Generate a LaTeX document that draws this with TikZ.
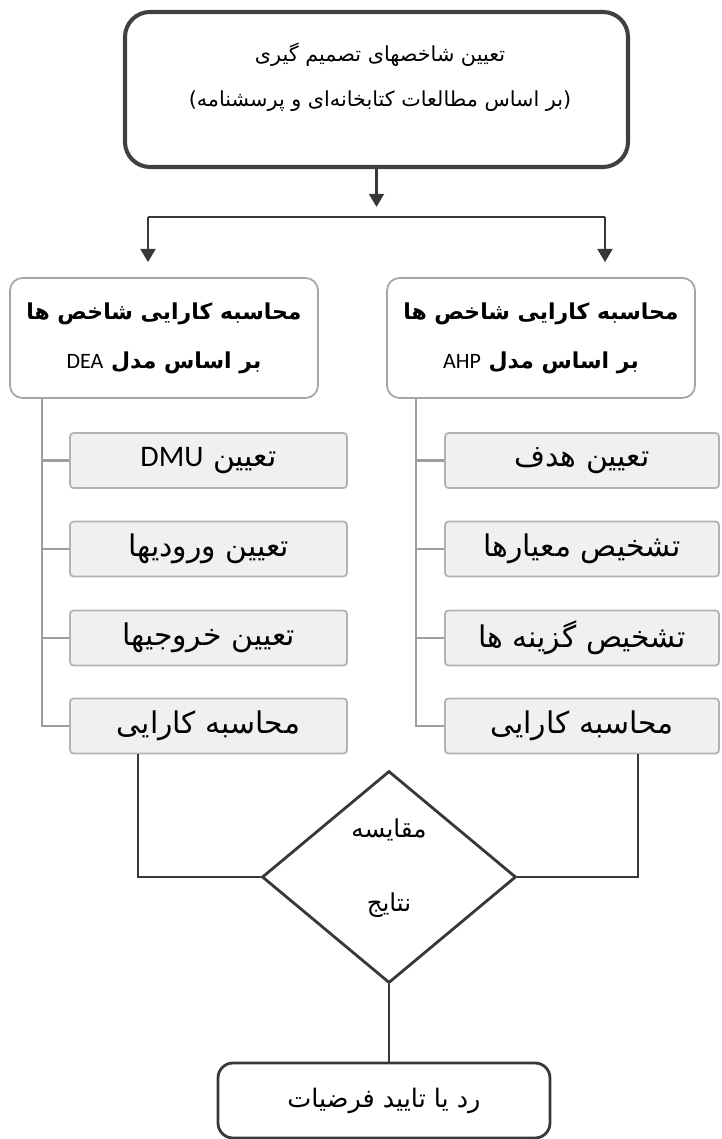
\documentclass[tikz,border=0pt]{standalone}
\usepackage{fontspec}
\newfontfamily\farsi[Script=Arabic]{DejaVu Sans}
\newfontfamily\latin{Carlito}
\TeXXeTstate=1
\usetikzlibrary{shapes.geometric, arrows.meta, calc}

\begin{document}
\begin{tikzpicture}[>={Triangle[length=7.5pt, width=8.5pt]},
    wire/.style={draw=black!78, line width=1.3pt},
    tree/.style={draw=black!38, line width=1.5pt},
    mainbox/.style={draw=black!75, line width=2.3pt, rounded corners=0.5cm, minimum width=10.06cm, minimum height=3.1cm},
    maintext/.style={align=center, font=\farsi\fontsize{11.8}{25.6}\selectfont},
    headbox/.style={draw=black!35, line width=1pt, rounded corners=0.25cm, fill=white, minimum width=6.16cm, minimum height=2.4cm, align=center, font=\farsi\bfseries\fontsize{12.5}{28}\selectfont},
    stepbox/.style={draw=black!30, line width=1pt, fill=black!6, rounded corners=2pt, minimum height=1.1cm, font=\farsi\fontsize{17}{20}\selectfont},
    cmpbox/.style={diamond, draw=black!78, line width=1.6pt, inner sep=0pt, minimum width=5.08cm, minimum height=4.24cm},
    cmptext/.style={align=center, font=\farsi\fontsize{14}{42}\selectfont},
    endbox/.style={draw=black!78, line width=1.6pt, rounded corners=0.3cm, minimum width=6.64cm, minimum height=1.5cm, font=\farsi\fontsize{14.5}{16}\selectfont}]
    \useasboundingbox (0,0) rectangle (14.42,22.78);

    % Top box
    \node[mainbox] (goal) at (7.53,20.99) {};
    \node[maintext] (goaltxt) at (7.6,21.23) {\beginR تعیین شاخصهای تصمیم گیری\endR\\\beginR (بر اساس مطالعات کتابخانه‌ای و پرسشنامه)\endR};

    % Two models
    \node[headbox] (dea) at (3.28,16.02) {\beginR محاسبه کارایی شاخص ها\endR\\\beginR بر اساس مدل \beginL{\latin\mdseries DEA}\endL\endR};
    \node[headbox] (ahp) at (10.82,16.02) {\beginR محاسبه کارایی شاخص ها\endR\\\beginR بر اساس مدل \beginL{\latin\mdseries AHP}\endL\endR};

    % DEA steps
    \node[stepbox, minimum width=5.54cm] (d1) at (4.17,13.57) {\beginR تعیین \beginL{\latin DMU}\endL\endR};
    \node[stepbox, minimum width=5.54cm] (d2) at (4.17,11.80) {\beginR تعیین ورودیها\endR};
    \node[stepbox, minimum width=5.54cm] (d3) at (4.17,10.02) {\beginR تعیین خروجیها\endR};
    \node[stepbox, minimum width=5.54cm] (d4) at (4.17,8.26) {\beginR محاسبه کارایی\endR};

    % AHP steps
    \node[stepbox, minimum width=5.48cm] (a1) at (11.64,13.57) {\beginR تعیین هدف\endR};
    \node[stepbox, minimum width=5.48cm] (a2) at (11.64,11.80) {\beginR تشخیص معیارها\endR};
    \node[stepbox, minimum width=5.48cm] (a3) at (11.64,10.02) {\beginR تشخیص گزینه ها\endR};
    \node[stepbox, minimum width=5.48cm] (a4) at (11.64,8.26) {\beginR محاسبه کارایی\endR};

    % Comparison and result
    \node[cmpbox] (cmp) at (7.78,5.24) {};
    \node[cmptext] (cmptxt) at (7.78,5.42) {\beginR مقایسه\endR\\\beginR نتایج\endR};
    \node[endbox] (final) at (7.68,0.77) {\beginR رد یا تایید فرضیات\endR};

    % Split arrows
    \coordinate (split) at (7.53,18.44);
    \coordinate (lsplit) at (2.96,18.44);
    \coordinate (rsplit) at (12.10,18.44);
    \draw[wire, ->] (goal.south) -- ($(split)+(0,0.2)$);
    \draw[wire] (lsplit) -- (rsplit);
    \draw[wire, ->] (lsplit) -- ($(lsplit |- dea.north)+(0,0.3)$);
    \draw[wire, ->] (rsplit) -- ($(rsplit |- ahp.north)+(0,0.3)$);

    % Tree lines
    \coordinate (dtrunk) at (0.84,0);
    \coordinate (atrunk) at (8.32,0);
    \draw[tree] (dtrunk |- dea.south) -- (dtrunk |- d4.west) -- (d4.west);
    \draw[tree] (dtrunk |- d1.west) -- (d1.west);
    \draw[tree] (dtrunk |- d2.west) -- (d2.west);
    \draw[tree] (dtrunk |- d3.west) -- (d3.west);
    \draw[tree] (atrunk |- ahp.south) -- (atrunk |- a4.west) -- (a4.west);
    \draw[tree] (atrunk |- a1.west) -- (a1.west);
    \draw[tree] (atrunk |- a2.west) -- (a2.west);
    \draw[tree] (atrunk |- a3.west) -- (a3.west);

    % Into the diamond
    \coordinate (ldrop) at (2.76,0);
    \coordinate (rdrop) at (12.76,0);
    \draw[wire] (ldrop |- d4.south) -- (ldrop |- cmp.west) -- (cmp.west);
    \draw[wire] (rdrop |- a4.south) -- (rdrop |- cmp.east) -- (cmp.east);
    \draw[wire] (cmp.south) -- (cmp.south |- final.north);
\end{tikzpicture}
\end{document}
